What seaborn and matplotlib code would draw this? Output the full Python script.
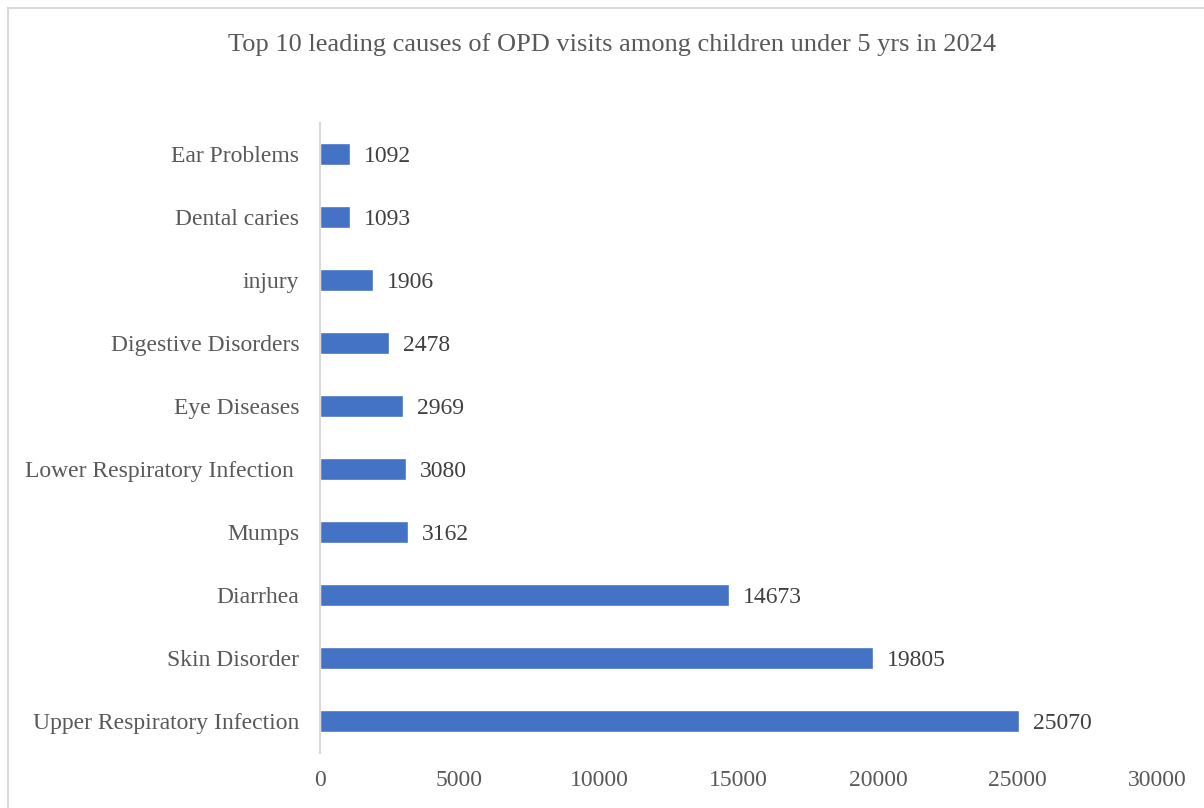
import matplotlib
matplotlib.use("Agg")
import matplotlib.pyplot as plt
import seaborn as sns
import pandas as pd
from matplotlib.patches import Rectangle

categories = ["Ear Problems", "Dental caries", "injury", "Digestive Disorders", "Eye Diseases",
              "Lower Respiratory Infection ", "Mumps", "Diarrhea", "Skin Disorder",
              "Upper Respiratory Infection"]
values = [1092, 1093, 1906, 2478, 2969, 3080, 3162, 14673, 19805, 25070]
xticks = [0, 5000, 10000, 15000, 20000, 25000, 30000]
title = "Top 10 leading causes of OPD visits among children under 5 yrs in 2024"

sns.set_theme(style="white")
plt.rcParams['font.family'] = ['Liberation Serif', 'DejaVu Serif']

df = pd.DataFrame({"cause": categories, "visits": values})

fig = plt.figure(figsize=(12.04, 8.08), dpi=100)
ax = fig.add_axes([320/1204, 1-752.5/808, (1157-320)/1204, (752.5-122.5)/808])
sns.barplot(data=df, y="cause", x="visits", order=categories, color="#4472C4",
            saturation=1, width=0.35, ax=ax, orient="h")

ax.set_xlim(0, 30000)
ax.set_xticks(xticks)
ax.set_xticklabels([str(t) for t in xticks], fontsize=17, color="#595959")
ax.tick_params(axis="y", labelsize=17, labelcolor="#595959", length=0, pad=15)
ax.tick_params(axis="x", length=0, pad=12.5)
ax.set_xlabel("")
ax.set_ylabel("")
for s in ["top", "right", "bottom"]:
    ax.spines[s].set_visible(False)
ax.spines["left"].set_color("#D9D9D9")
ax.spines["left"].set_linewidth(1.5)

for c in ax.containers:
    txts = ax.bar_label(c, labels=[str(v) for v in values], padding=10, fontsize=17,
                        color="#404040")
    for t in txts:
        t.set_va("center_baseline")

fig.text(612/1204, 1-45/808, title, ha="center", va="center", fontsize=19, color="#595959")

fig.patches.append(Rectangle((8/1204, -0.1), 1.2, 1-8/808+0.1, transform=fig.transFigure,
                             fill=False, edgecolor="#D9D9D9", linewidth=1.5))

fig.savefig("out.png", dpi=100)
